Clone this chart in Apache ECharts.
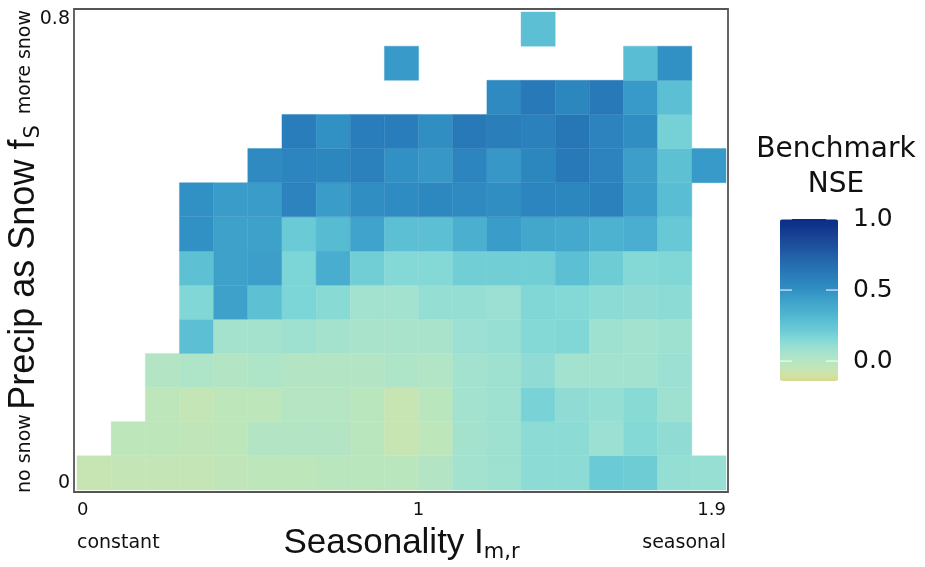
<!DOCTYPE html>
<html>
<head>
<meta charset="utf-8">
<script src="https://cdn.jsdelivr.net/npm/echarts@6/dist/echarts.min.js"></script>
<style>
  html, body { margin: 0; padding: 0; background: #ffffff; }
  #chart { width: 925px; height: 567px; }
</style>
</head>
<body>
<div id="chart"></div>
<script>
// Bin sizes: 19 seasonality columns (0 .. 1.9) and 14 snow-fraction rows (0 .. 0.8)
const seasonalityBinWidth = 0.1;
const snowBinHeight = 0.8 / 14;

// Axis ticks and end annotations
const seasonalityTicks = [0, 1, 1.9];
const seasonalityEnds = ['constant', 'seasonal'];
const snowTicks = [0, 0.8];
const snowEnds = ['no snow', 'more snow'];

// Colour scale of the benchmark NSE
const nseRange = [-0.14, 1.0];
const nseTicks = [0.0, 0.5, 1.0];
const nseColors = [
  '#d6dc90', '#cde3ad', '#bae6be', '#ace4ca', '#98dfd3', '#80d7d6', '#6acad5',
  '#5cbfd3', '#4cb2d0', '#43a7cc', '#389ac8', '#2f8cc2', '#2b81bc', '#2675b5',
  '#2469ad', '#215ca5', '#1d4f9c', '#174394', '#11378d', '#0b2b86'
];

// Benchmark NSE per cell: one array per snow-fraction row (bottom to top),
// 19 seasonality columns each; null where no catchments fall in the cell
const nseRow00 = [-0.06, -0.05, -0.05, -0.05, -0.04, -0.03, -0.03, -0.02, -0.02, -0.02, 0.01, 0.07, 0.08, 0.13, 0.13, 0.22, 0.21, 0.11, 0.10];
const nseRow01 = [null, -0.03, -0.03, -0.04, -0.03, 0.01, 0.01, 0.01, -0.02, -0.06, -0.03, 0.06, 0.08, 0.13, 0.13, 0.09, 0.15, 0.12, null];
const nseRow02 = [null, null, -0.03, -0.05, -0.03, -0.03, 0.00, 0.00, -0.02, -0.06, -0.02, 0.07, 0.08, 0.18, 0.12, 0.11, 0.14, 0.08, null];
const nseRow03 = [null, null, 0.01, 0.03, 0.01, 0.03, 0.01, 0.01, 0.01, 0.03, 0.02, 0.07, 0.08, 0.12, 0.07, 0.07, 0.07, 0.09, null];
const nseRow04 = [null, null, null, 0.28, 0.06, 0.06, 0.08, 0.06, 0.05, 0.05, 0.05, 0.09, 0.10, 0.15, 0.16, 0.08, 0.07, 0.08, null];
const nseRow05 = [null, null, null, 0.16, 0.43, 0.27, 0.17, 0.14, 0.07, 0.07, 0.11, 0.11, 0.09, 0.16, 0.15, 0.13, 0.12, 0.13, null];
const nseRow06 = [null, null, null, 0.27, 0.43, 0.44, 0.17, 0.37, 0.20, 0.15, 0.15, 0.20, 0.20, 0.20, 0.28, 0.21, 0.15, 0.16, null];
const nseRow07 = [null, null, null, 0.50, 0.43, 0.43, 0.22, 0.30, 0.42, 0.28, 0.28, 0.35, 0.45, 0.40, 0.39, 0.34, 0.36, 0.23, null];
const nseRow08 = [null, null, null, 0.50, 0.45, 0.45, 0.57, 0.45, 0.51, 0.52, 0.54, 0.53, 0.51, 0.56, 0.55, 0.58, 0.45, 0.29, null];
const nseRow09 = [null, null, null, null, null, 0.53, 0.56, 0.55, 0.58, 0.50, 0.47, 0.56, 0.47, 0.55, 0.62, 0.57, 0.44, 0.27, 0.46];
const nseRow10 = [null, null, null, null, null, null, 0.60, 0.50, 0.60, 0.60, 0.51, 0.62, 0.59, 0.58, 0.63, 0.57, 0.51, 0.19, null];
const nseRow11 = [null, null, null, null, null, null, null, null, null, null, null, null, 0.53, 0.62, 0.55, 0.62, 0.46, 0.28, null];
const nseRow12 = [null, null, null, null, null, null, null, null, null, 0.46, null, null, null, null, null, null, 0.29, 0.50, null];
const nseRow13 = [null, null, null, null, null, null, null, null, null, null, null, null, null, 0.28, null, null, null, null, null];

const nseRows = [nseRow00, nseRow01, nseRow02, nseRow03, nseRow04, nseRow05, nseRow06,
                 nseRow07, nseRow08, nseRow09, nseRow10, nseRow11, nseRow12, nseRow13];

// [seasonality bin start, snow bin start, NSE]
const cells = [];
nseRows.forEach((row, j) => {
  row.forEach((v, i) => {
    if (v !== null) cells.push([i * seasonalityBinWidth, j * snowBinHeight, v]);
  });
});

// Colour-bar geometry
const bar = { left: 780, top: 219, width: 58, height: 162 };
const barY = v => bar.top + (nseRange[1] - v) / (nseRange[1] - nseRange[0]) * bar.height;

const graphics = [
  // plot frame
  { type: 'rect', shape: { x: 74, y: 9, width: 654, height: 483 },
    style: { fill: 'none', stroke: '#555555', lineWidth: 1.8 }, z: 10 },
  // y-axis end annotations
  { type: 'text', x: 25, y: 493, rotation: Math.PI / 2,
    style: { text: snowEnds[0], font: '19px "DejaVu Sans"', fill: '#111', align: 'left', verticalAlign: 'middle' } },
  { type: 'text', x: 25, y: 10, rotation: Math.PI / 2,
    style: { text: snowEnds[1], font: '19px "DejaVu Sans"', fill: '#111', align: 'right', verticalAlign: 'middle' } },
  // colour-bar title
  { type: 'text', x: 836, y: 167,
    style: { text: 'Benchmark\nNSE', font: '28px "DejaVu Sans"', lineHeight: 35, fill: '#111', align: 'center', verticalAlign: 'middle' } }
];
nseTicks.forEach(t => {
  const y = barY(t);
  graphics.push({ type: 'text', x: 853, y: y,
    style: { text: t.toFixed(1), font: '25px "DejaVu Sans"', fill: '#111', align: 'left', verticalAlign: 'middle' } });
  graphics.push({ type: 'line', shape: { x1: bar.left, y1: y, x2: bar.left + 12, y2: y },
    style: { stroke: 'rgba(255,255,255,0.85)', lineWidth: 1.2 }, z: 20 });
  graphics.push({ type: 'line', shape: { x1: bar.left + bar.width - 12, y1: y, x2: bar.left + bar.width, y2: y },
    style: { stroke: 'rgba(255,255,255,0.85)', lineWidth: 1.2 }, z: 20 });
});

const chart = echarts.init(document.getElementById('chart'), null, { renderer: 'canvas' });

chart.setOption({
  animation: false,
  backgroundColor: '#ffffff',
  grid: { left: 77, right: 199, top: 12, bottom: 77, containLabel: false, outerBoundsMode: 'none' },
  xAxis: {
    type: 'value',
    min: seasonalityTicks[0],
    max: seasonalityTicks[seasonalityTicks.length - 1],
    axisLine: { show: false },
    axisTick: { show: false },
    splitLine: { show: false },
    axisLabel: {
      customValues: seasonalityTicks,
      margin: 9,
      alignMinLabel: 'left',
      alignMaxLabel: 'right',
      color: '#111',
      formatter: v => {
        if (v === seasonalityTicks[0]) return '{v|' + v + '}\n{n|' + seasonalityEnds[0] + '}';
        if (v === seasonalityTicks[seasonalityTicks.length - 1]) return '{v|' + v + '}\n{n|' + seasonalityEnds[1] + '}';
        return '{v|' + v + '}';
      },
      rich: {
        v: { fontFamily: 'DejaVu Sans', fontSize: 18, lineHeight: 22, color: '#111' },
        n: { fontFamily: 'DejaVu Sans', fontSize: 19, lineHeight: 45, color: '#111' }
      }
    },
    name: '{a|Seasonality I}{b|m,r}',
    nameLocation: 'middle',
    nameGap: 33,
    nameMoveOverlap: false,
    nameTextStyle: {
      rich: {
        a: { fontFamily: 'Liberation Sans', fontSize: 35, lineHeight: 40, color: '#111' },
        b: { fontFamily: 'DejaVu Sans', fontSize: 21, lineHeight: 15, verticalAlign: 'bottom', color: '#111' }
      }
    }
  },
  yAxis: {
    type: 'value',
    min: snowTicks[0],
    max: snowTicks[snowTicks.length - 1],
    axisLine: { show: false },
    axisTick: { show: false },
    splitLine: { show: false },
    axisLabel: {
      customValues: snowTicks,
      margin: 7,
      verticalAlignMinLabel: 'bottom',
      verticalAlignMaxLabel: 'top',
      fontFamily: 'DejaVu Sans',
      fontSize: 19,
      lineHeight: 14,
      color: '#111'
    },
    name: '{a|Precip as Snow f}{b|S}',
    nameLocation: 'middle',
    nameGap: 33,
    nameMoveOverlap: false,
    nameTextStyle: {
      rich: {
        a: { fontFamily: 'Liberation Sans', fontSize: 36, lineHeight: 40, color: '#111' },
        b: { fontFamily: 'DejaVu Sans', fontSize: 21, lineHeight: 15, verticalAlign: 'bottom', padding: [0, 33, 0, 1], color: '#111' }
      }
    }
  },
  visualMap: {
    type: 'continuous',
    min: nseRange[0],
    max: nseRange[1],
    dimension: 2,
    seriesIndex: 0,
    orient: 'vertical',
    left: bar.left,
    top: bar.top,
    itemWidth: bar.width,
    itemHeight: bar.height,
    padding: 0,
    calculable: false,
    hoverLink: false,
    inRange: { color: nseColors }
  },
  series: [{
    type: 'custom',
    coordinateSystem: 'cartesian2d',
    encode: { x: 0, y: 1 },
    data: cells,
    renderItem: (params, api) => {
      const x0 = api.value(0);
      const y0 = api.value(1);
      const topLeft = api.coord([x0, y0 + snowBinHeight]);
      const bottomRight = api.coord([x0 + seasonalityBinWidth, y0]);
      const color = api.visual('color');
      return {
        type: 'rect',
        shape: {
          x: topLeft[0], y: topLeft[1],
          width: bottomRight[0] - topLeft[0],
          height: bottomRight[1] - topLeft[1]
        },
        style: { fill: color, stroke: color, lineWidth: 0.4 }
      };
    }
  }],
  graphic: graphics
});
</script>
</body>
</html>
